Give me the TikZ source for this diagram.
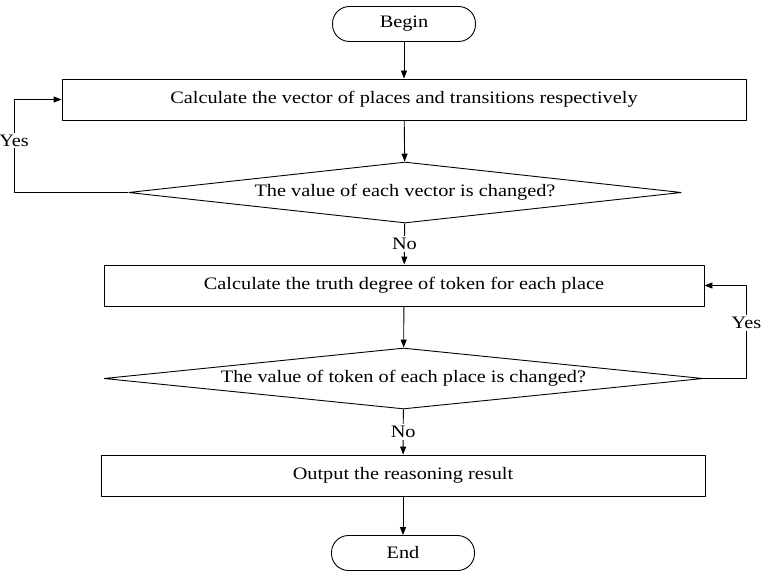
\documentclass[tikz,border=0pt]{standalone}
\usepackage{fontspec}
\setmainfont{Liberation Serif}[FakeStretch=1.16]
\usepackage{tikz}
\usetikzlibrary{arrows.meta, shapes, positioning}

\begin{document}
\begin{tikzpicture}[
                x=1pt, y=1pt,
                line join=bevel,
                font=\fontsize{17.5}{21}\selectfont,
                every path/.style={line width=0.9pt},
                flowarrow/.style={-{Stealth[length=8pt, width=6pt, inset=0pt]}},
                terminalnode/.style={shape=rectangle, draw=black, rounded corners=17pt, minimum width=143pt, minimum height=35pt, line width=0.9pt},
                stepbox/.style={shape=rectangle, draw=black, minimum height=41pt, line width=0.9pt},
                checknode/.style={shape=diamond, draw=black, inner sep=0pt, minimum height=61pt, line width=0.9pt},
                answer/.style={fill=white, inner sep=2pt}
                ]
                %% Frame
                \useasboundingbox (0, 0) rectangle (761, -575);

                %% Nodes
                \node[terminalnode] (begin) at (404, -24) {Begin};
                \node[stepbox, minimum width=684pt] (vector) at (404, -99.5) {Calculate the vector of places and transitions respectively};
                \node[checknode, aspect=9.07, minimum width=553pt] (vectorcheck) at (405, -192.5) {The value of each vector is changed?};
                \node[stepbox, minimum width=600pt] (truth) at (404, -285.5) {Calculate the truth degree of token for each place};
                \node[checknode, aspect=9.82, minimum width=599pt] (tokencheck) at (403.5, -378.5) {The value of token of each place is changed?};
                \node[stepbox, minimum width=604pt] (output) at (403, -475.5) {Output the reasoning result};
                \node[terminalnode] (end) at (403, -553) {End};

                %% Draws
                \draw[flowarrow] (begin) -- (vector);
                \draw[flowarrow] (vector) -- (vectorcheck);
                \draw[flowarrow] (vectorcheck) -- node[answer] {No} (truth);
                \draw[flowarrow] (vectorcheck.west) -- ++(-114, 0) |- node[answer, pos=0.28] {Yes} (vector.west);
                \draw[flowarrow] (truth) -- (tokencheck);
                \draw[flowarrow] (tokencheck) -- node[answer] {No} (output);
                \draw[flowarrow] (tokencheck.east) -- ++(43, 0) |- node[answer, pos=0.3] {Yes} (truth.east);
                \draw[flowarrow] (output) -- (end);
\end{tikzpicture}
\end{document}
